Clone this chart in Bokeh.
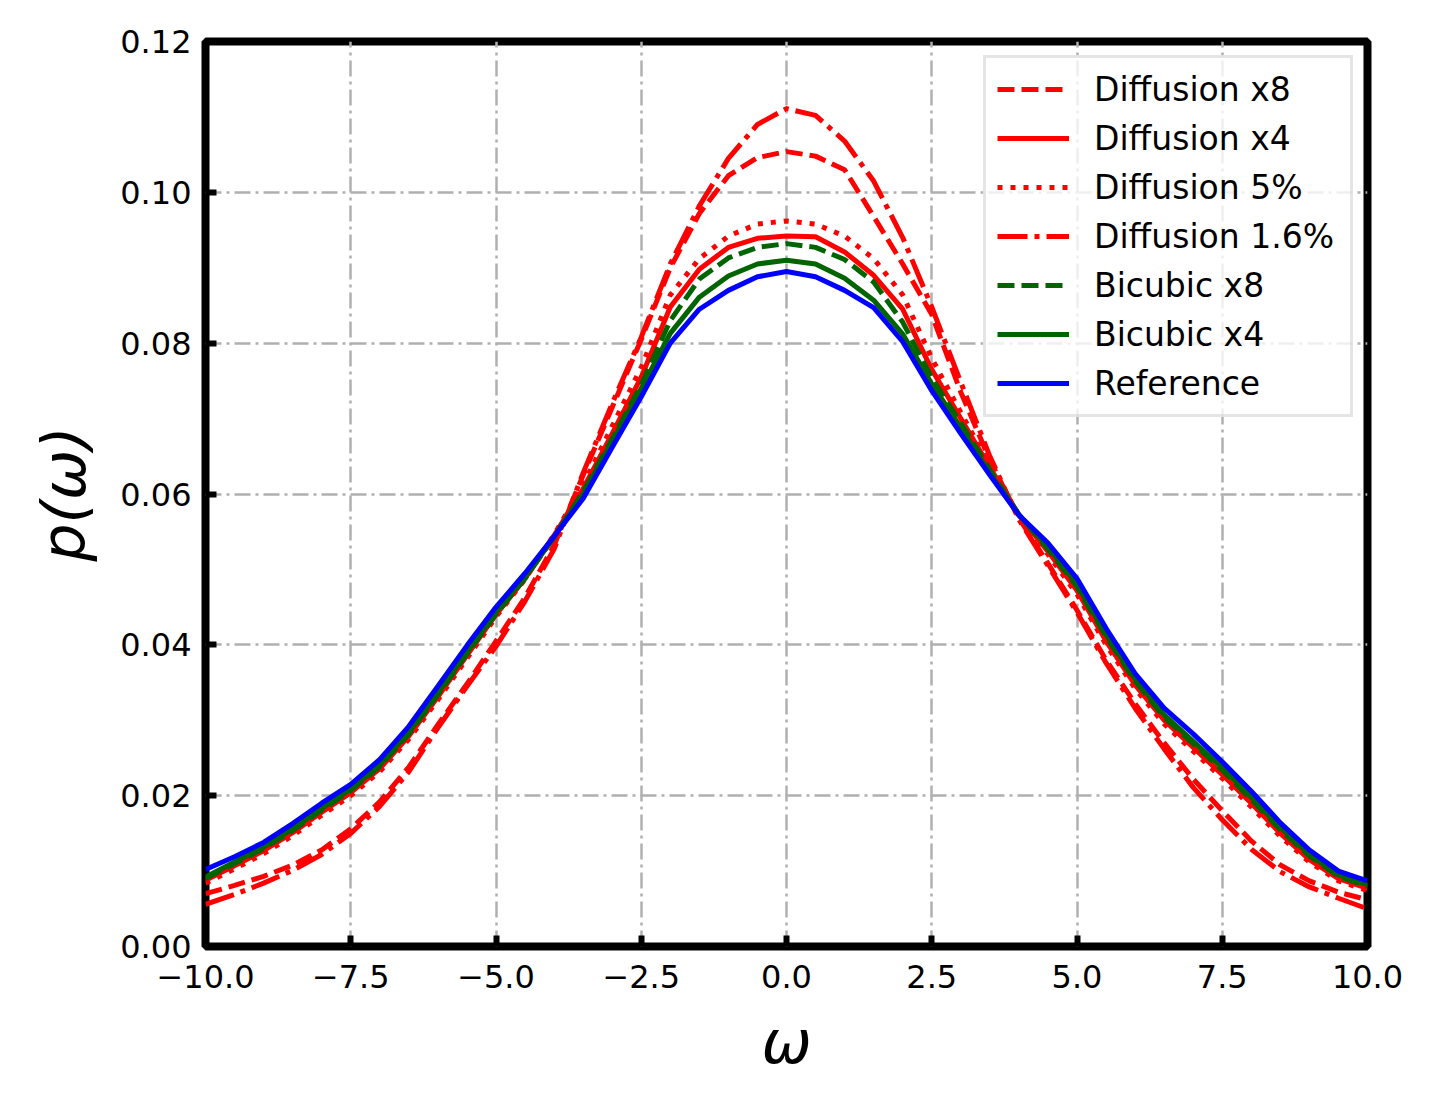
from bokeh.plotting import figure
from bokeh.models import FixedTicker, Legend, LegendItem, Range1d
from bokeh.embed import file_html
from bokeh.resources import INLINE

omega = [i * 0.5 for i in range(-20, 21)]

diff_x8 = [0.0070,0.0081,0.0093,0.0108,0.0128,0.0156,0.0192,0.0238,0.0294,0.0348,0.0405,
           0.0463,0.0532,0.0625,0.0715,0.0805,0.0900,0.0972,0.1022,0.1046,0.1054,
           0.1048,0.1030,0.0968,0.0905,0.0838,0.0735,0.0645,0.0568,0.0508,0.0446,
           0.0380,0.0322,0.0270,0.0222,0.0180,0.0140,0.0108,0.0087,0.0072,0.0062]
diff_x4 = [0.0088,0.0107,0.0127,0.0151,0.0178,0.0204,0.0236,0.0279,0.0331,0.0386,0.0440,
           0.0488,0.0545,0.0607,0.0680,0.0755,0.0848,0.0898,0.0927,0.0939,0.0942,
           0.0941,0.0921,0.0890,0.0845,0.0765,0.0700,0.0635,0.0572,0.0524,0.0472,
           0.0405,0.0347,0.0300,0.0264,0.0228,0.0190,0.0150,0.0115,0.0090,0.0077]
diff_5 = [0.0084,0.0103,0.0123,0.0147,0.0174,0.0200,0.0232,0.0275,0.0327,0.0382,0.0437,
          0.0487,0.0546,0.0612,0.0690,0.0768,0.0864,0.0912,0.0942,0.0958,0.0962,
          0.0958,0.0942,0.0912,0.0864,0.0780,0.0708,0.0638,0.0572,0.0520,0.0467,
          0.0400,0.0342,0.0295,0.0259,0.0223,0.0185,0.0146,0.0112,0.0087,0.0074]
diff_16 = [0.0056,0.0069,0.0084,0.0101,0.0122,0.0150,0.0186,0.0232,0.0290,0.0345,0.0398,
           0.0458,0.0527,0.0628,0.0720,0.0808,0.0905,0.0982,0.1045,0.1090,0.1111,
           0.1102,0.1068,0.1015,0.0940,0.0848,0.0748,0.0650,0.0566,0.0505,0.0443,
           0.0376,0.0316,0.0262,0.0211,0.0168,0.0129,0.0099,0.0079,0.0064,0.0050]
bic_x8 = [0.0090,0.0110,0.0130,0.0154,0.0181,0.0207,0.0239,0.0282,0.0334,0.0388,0.0441,
          0.0488,0.0543,0.0603,0.0673,0.0745,0.0830,0.0885,0.0913,0.0927,0.0932,
          0.0927,0.0911,0.0881,0.0828,0.0754,0.0694,0.0632,0.0573,0.0527,0.0477,
          0.0411,0.0352,0.0304,0.0269,0.0234,0.0195,0.0155,0.0120,0.0093,0.0080]
bic_x4 = [0.0092,0.0112,0.0132,0.0156,0.0183,0.0209,0.0241,0.0284,0.0336,0.0390,0.0443,
          0.0490,0.0543,0.0600,0.0670,0.0740,0.0813,0.0861,0.0889,0.0905,0.0910,
          0.0905,0.0886,0.0857,0.0812,0.0746,0.0688,0.0628,0.0572,0.0530,0.0480,
          0.0414,0.0355,0.0307,0.0272,0.0237,0.0198,0.0158,0.0122,0.0095,0.0082]
reference = [0.0102,0.0119,0.0138,0.0163,0.0190,0.0215,0.0248,0.0292,0.0345,0.0399,0.0450,
             0.0495,0.0544,0.0594,0.0662,0.0729,0.0800,0.0845,0.0870,0.0888,0.0895,
             0.0888,0.0870,0.0847,0.0802,0.0737,0.0680,0.0625,0.0572,0.0535,0.0488,
             0.0422,0.0362,0.0316,0.0282,0.0245,0.0206,0.0164,0.0128,0.0100,0.0087]

x_ticks = [-10.0, -7.5, -5.0, -2.5, 0.0, 2.5, 5.0, 7.5, 10.0]
x_tick_labels = ["\u221210.0", "\u22127.5", "\u22125.0", "\u22122.5", "0.0", "2.5", "5.0", "7.5", "10.0"]
y_ticks = [0.0, 0.02, 0.04, 0.06, 0.08, 0.10, 0.12]
y_tick_labels = ["0.00", "0.02", "0.04", "0.06", "0.08", "0.10", "0.12"]

series = [
    ("Diffusion x8", diff_x8, "#ff0000", "17 7"),
    ("Diffusion x4", diff_x4, "#ff0000", "solid"),
    ("Diffusion 5%", diff_5, "#ff0000", "5 8"),
    ("Diffusion 1.6%", diff_16, "#ff0000", "30 7 5 7"),
    ("Bicubic x8", bic_x8, "#006400", "17 7"),
    ("Bicubic x4", bic_x4, "#006400", "solid"),
    ("Reference", reference, "#0000ff", "solid"),
]

p = figure(frame_width=1162, frame_height=905, output_backend="svg", toolbar_location=None,
           x_range=Range1d(-10, 10), y_range=Range1d(0, 0.12),
           min_border_left=205, min_border_top=41, min_border_right=45, min_border_bottom=110)

p.background_fill_color = "white"
p.border_fill_color = "white"
p.outline_line_color = "black"
p.outline_line_width = 8

p.xaxis.ticker = FixedTicker(ticks=x_ticks)
p.yaxis.ticker = FixedTicker(ticks=y_ticks)
p.xaxis.major_label_overrides = {t: l for t, l in zip(x_ticks, x_tick_labels)}
p.yaxis.major_label_overrides = {t: l for t, l in zip(y_ticks, y_tick_labels)}

for ax in (p.xaxis[0], p.yaxis[0]):
    ax.axis_line_color = None
    ax.major_tick_in = 11
    ax.major_tick_out = 0
    ax.major_tick_line_width = 6
    ax.major_tick_line_color = "black"
    ax.minor_tick_line_color = None
    ax.major_label_text_font = "DejaVu Sans"
    ax.major_label_text_font_size = "32px"
    ax.major_label_text_color = "black"
    ax.major_label_standoff = 14
    ax.axis_label_text_font = "DejaVu Sans"
    ax.axis_label_text_font_style = "italic"
    ax.axis_label_text_font_size = "60px"
    ax.axis_label_text_color = "black"

p.xaxis.major_label_standoff = 18
p.xaxis.axis_label = "\u03c9"
p.yaxis.axis_label = "p(\u03c9)"
p.xaxis.axis_label_standoff = 16
p.yaxis.axis_label_standoff = 18

for g in (p.xgrid[0], p.ygrid[0]):
    g.grid_line_color = "#b0b0b0"
    g.grid_line_width = 2.5
    g.grid_line_dash = "16 5 3 5"

items = []
for name, vals, color, dash in series:
    r = p.line(omega, vals, line_color=color, line_width=5, line_dash=dash, line_join="round")
    items.append(LegendItem(label=name, renderers=[r]))

legend = Legend(items=items, location="top_right")
legend.margin = 14
legend.padding = 11
legend.spacing = 9
legend.glyph_width = 72
legend.glyph_height = 40
legend.label_height = 40
legend.label_width = 245
legend.label_standoff = 25
legend.label_text_font = "DejaVu Sans"
legend.label_text_font_size = "33px"
legend.label_text_color = "black"
legend.border_line_color = "#cccccc"
legend.border_line_width = 3
legend.background_fill_color = "white"
legend.background_fill_alpha = 0.8
p.add_layout(legend, "center")

open("out.html", "w").write(file_html(p, INLINE))
